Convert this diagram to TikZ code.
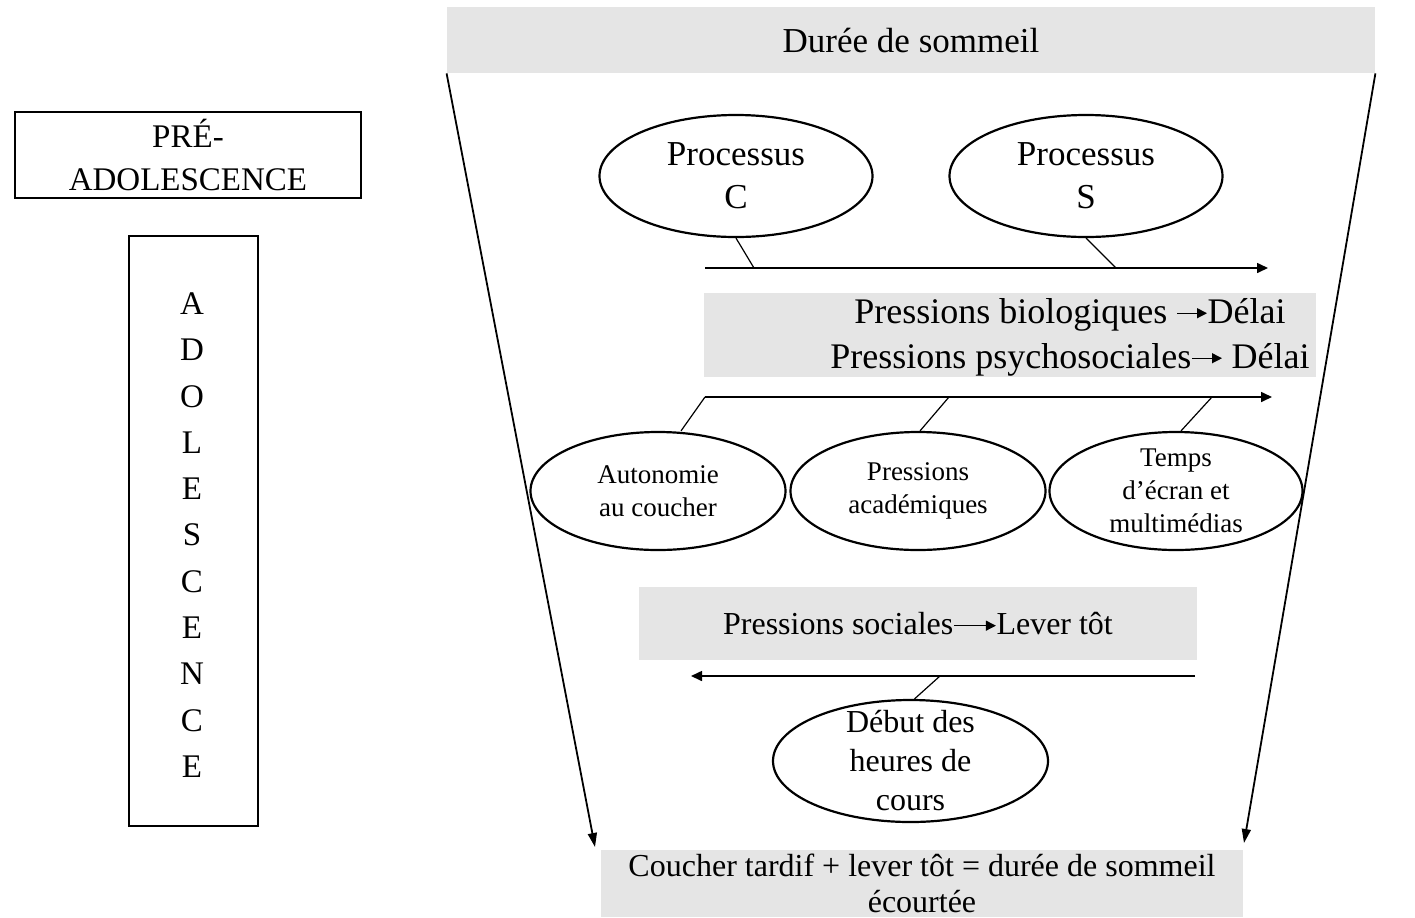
\documentclass[tikz,border=0pt]{standalone}
\usepackage{fontspec}
\setmainfont{Liberation Serif}
\usetikzlibrary{arrows.meta,positioning,shapes.geometric}

\newcommand{\flechette}[1]{\tikz[baseline=-0.6ex]\draw[line width=0.6pt,-{Triangle[length=5pt,width=5pt]}] (0pt,0pt) -- (#1,0pt);}

\begin{document}
\begin{tikzpicture}[x=0.5pt,y=-0.5pt,
  cadre/.style={draw,line width=1.2pt,align=center,inner sep=0pt},
  bande/.style={fill=gray!20,inner sep=0pt,align=center},
  bulle/.style={ellipse,draw,line width=1.1pt,inner sep=0pt},
  mot/.style={align=center,inner sep=0pt},
  lien/.style={line width=0.6pt},
  axe/.style={line width=0.8pt,->},
  >={Triangle[length=5.5pt,width=5pt]}]
\useasboundingbox (0,0) rectangle (1415,917);

% colonne de gauche
\node[cadre,minimum width=173pt,minimum height=43pt,font=\fontsize{16.5}{21.5}\selectfont] (preado) at (188,155) {PRÉ-\\ADOLESCENCE};
\node[cadre,minimum width=64.5pt,minimum height=295pt,font=\fontsize{16.5}{23.15}\selectfont] (ado) at (193.5,531) {};
\node[mot,font=\fontsize{16.5}{23.15}\selectfont] (adoT) at (192,535) {A\\D\\O\\L\\E\\S\\C\\E\\N\\C\\E};

% entonnoir
\node[bande,minimum width=464pt,minimum height=33pt,font=\fontsize{17.5}{21}\selectfont] (duree) at (911,40) {Durée de sommeil};
\coordinate (basG) at (595,847);
\coordinate (basD) at (1244,843);
\draw[line width=0.9pt,->,>={Triangle[length=7pt,width=4.5pt]}] (duree.south west) -- (basG);
\draw[line width=0.9pt,->,>={Triangle[length=7pt,width=4.5pt]}] (duree.south east) -- (basD);

% processus
\node[bulle,minimum width=136.5pt,minimum height=61pt,label={[mot,font=\fontsize{17.5}{21.5}\selectfont]center:Processus\\C}] (procC) at (736,176) {};
\node[bulle,minimum width=136.5pt,minimum height=61pt,label={[mot,font=\fontsize{17.5}{21.5}\selectfont]center:Processus\\S}] (procS) at (1086,176) {};
\coordinate (axe1G) at (705,268);
\coordinate (axe1D) at (1268,268);
\coordinate (jC) at (754,268);
\coordinate (jS) at (1116,268);
\draw[axe] (axe1G) -- (axe1D);
\draw[lien] (procC.south) -- (jC);
\draw[lien] (procS.south) -- (jS);

% pressions
\node[bande,minimum width=306pt,minimum height=42pt] (press) at (1010,335) {};
\node[mot,font=\fontsize{18}{22.5}\selectfont] (pressT) at (1070,337) {Pressions biologiques \flechette{15pt}Délai\\Pressions psychosociales\flechette{15pt} Délai};
\coordinate (axe2G) at (705,397);
\coordinate (axe2D) at (1272,397);
\coordinate (jAca) at (949,397);
\coordinate (jEcr) at (1212,397);
\draw[axe] (axe2G) -- (axe2D);

\node[bulle,minimum width=127.5pt,minimum height=59pt,label={[mot,font=\fontsize{13.5}{16.5}\selectfont]center:Autonomie\\au coucher}] (auton) at (658,491) {};
\node[bulle,minimum width=127.5pt,minimum height=59pt,label={[mot,font=\fontsize{13.5}{16.5}\selectfont]center:Pressions\\académiques}] (acad) at (918,491) {};
\node[bulle,minimum width=126.5pt,minimum height=59pt,label={[mot,font=\fontsize{13.5}{16.5}\selectfont]center:Temps\\d’écran et\\multimédias}] (ecran) at (1176,491) {};
\draw[lien] (auton.north) ++(23,0) coordinate (jAut) -- (axe2G);
\draw[lien] (acad.north) ++(2,0) -- (jAca);
\draw[lien] (ecran.north) ++(5,0) -- (jEcr);

% pressions sociales
\node[bande,minimum width=279pt,minimum height=36.5pt,font=\fontsize{16}{19.5}\selectfont] (soc) at (918,623.5) {Pressions sociales\flechette{21pt}Lever tôt};
\coordinate (axe3D) at (1195,676);
\coordinate (axe3G) at (691,676);
\coordinate (jDeb) at (940,676);
\draw[axe] (axe3D) -- (axe3G);
\node[bulle,minimum width=137.5pt,minimum height=61pt,label={[mot,font=\fontsize{16}{19.5}\selectfont]center:Début des\\heures de\\cours}] (debut) at (910.5,761) {};
\draw[lien] (debut.north) ++(4,0) -- (jDeb);

% resultat
\node[bande,minimum width=321pt,minimum height=33.5pt,font=\fontsize{16}{18}\selectfont] (fin) at (922,883.5) {Coucher tardif + lever tôt = durée de sommeil\\écourtée};
\end{tikzpicture}
\end{document}
